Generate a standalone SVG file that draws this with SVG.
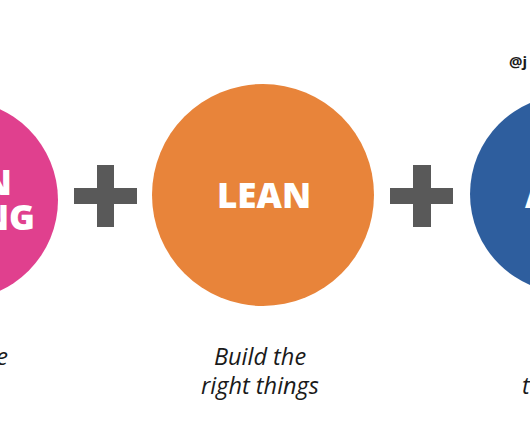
<svg xmlns="http://www.w3.org/2000/svg" width="530" height="442" viewBox="0 0 530 442">
<style>
.big{font-family:"Open Sans","Liberation Sans",sans-serif;font-weight:800;fill:#ffffff;font-size:35px}
.cap{font-family:"Open Sans","Liberation Sans",sans-serif;font-style:italic;fill:#1a1a1a;font-size:23.5px}
.plus{fill:#595959}
</style>
<rect width="530" height="442" fill="#ffffff"/>
<g id="design-thinking">
<circle cx="-42" cy="200" r="100" fill="#E0408E"/>
<text class="big" x="12" y="195" text-anchor="end">N</text>
<text class="big" x="35" y="230" text-anchor="end">NG</text>
<text class="cap" x="8" y="365" text-anchor="end">e</text>
</g>
<g id="lean">
<circle cx="263" cy="195" r="111" fill="#E8843A"/>
<text class="big" x="264" y="208" text-anchor="middle">LEAN</text>
<text class="cap" x="260" y="365" text-anchor="middle">Build the</text>
<text class="cap" x="260" y="394" text-anchor="middle">right things</text>
</g>
<g id="agile">
<circle cx="569" cy="194" r="99" fill="#2E5E9E"/>
<text class="big" x="525" y="208">A</text>
<text class="cap" x="522" y="394">t</text>
</g>
<g id="connectors">
<rect class="plus" x="97" y="165" width="17" height="62"/>
<rect class="plus" x="74" y="188" width="63" height="16"/>
<rect class="plus" x="413" y="165" width="18" height="62"/>
<rect class="plus" x="390" y="188" width="63" height="16"/>
</g>
<text x="509" y="67" font-family="'Open Sans','Liberation Sans',sans-serif" font-weight="700" font-size="15" fill="#1a1a1a">@j</text>
</svg>
